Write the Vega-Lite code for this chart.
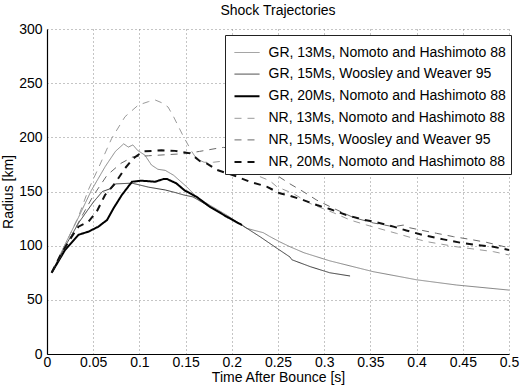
{
  "$schema": "https://vega.github.io/schema/vega-lite/v6.json",
  "width": 462,
  "height": 325,
  "autosize": {"type": "none"},
  "padding": {"left": 47, "top": 29, "right": 18, "bottom": 38},
  "background": "white",
  "title": {"text": "Shock Trajectories", "fontSize": 14, "fontWeight": "normal", "font": "Liberation Sans", "color": "black", "offset": 4, "anchor": "middle"},
  "config": {
    "view": {"stroke": null},
    "font": "Liberation Sans",
    "axis": {"labelFont": "Liberation Sans", "titleFont": "Liberation Sans", "labelFontSize": 14, "titleFontSize": 14, "labelColor": "black", "titleColor": "black", "titleFontWeight": "normal", "domainColor": "black", "domainWidth": 1.2, "ticks": false, "gridColor": "#8a8a8a", "gridDash": [1, 3], "gridWidth": 1, "gridOpacity": 1},
    "legend": {"orient": "none", "legendX": 178, "legendY": 6, "padding": 4.5, "symbolOffset": 4, "symbolSize": 625, "symbolType": "stroke", "labelOffset": 8, "labelFont": "Liberation Sans", "labelFontSize": 14, "labelColor": "black", "labelLimit": 400, "strokeColor": "#222222", "fillColor": "white", "rowPadding": 1.6, "cornerRadius": 0}
  },
  "data": {"values": [
    {"s": "GR, 13Ms, Nomoto and Hashimoto 88", "t": 0.005, "r": 75},
    {"s": "GR, 13Ms, Nomoto and Hashimoto 88", "t": 0.02, "r": 102},
    {"s": "GR, 13Ms, Nomoto and Hashimoto 88", "t": 0.034, "r": 126},
    {"s": "GR, 13Ms, Nomoto and Hashimoto 88", "t": 0.048, "r": 151},
    {"s": "GR, 13Ms, Nomoto and Hashimoto 88", "t": 0.063, "r": 173},
    {"s": "GR, 13Ms, Nomoto and Hashimoto 88", "t": 0.074, "r": 187},
    {"s": "GR, 13Ms, Nomoto and Hashimoto 88", "t": 0.083, "r": 194},
    {"s": "GR, 13Ms, Nomoto and Hashimoto 88", "t": 0.088, "r": 191},
    {"s": "GR, 13Ms, Nomoto and Hashimoto 88", "t": 0.093, "r": 193},
    {"s": "GR, 13Ms, Nomoto and Hashimoto 88", "t": 0.098, "r": 188},
    {"s": "GR, 13Ms, Nomoto and Hashimoto 88", "t": 0.106, "r": 183.5},
    {"s": "GR, 13Ms, Nomoto and Hashimoto 88", "t": 0.113, "r": 174.5},
    {"s": "GR, 13Ms, Nomoto and Hashimoto 88", "t": 0.12, "r": 170.5},
    {"s": "GR, 13Ms, Nomoto and Hashimoto 88", "t": 0.128, "r": 169.5},
    {"s": "GR, 13Ms, Nomoto and Hashimoto 88", "t": 0.137, "r": 165},
    {"s": "GR, 13Ms, Nomoto and Hashimoto 88", "t": 0.151, "r": 154.5},
    {"s": "GR, 13Ms, Nomoto and Hashimoto 88", "t": 0.162, "r": 145},
    {"s": "GR, 13Ms, Nomoto and Hashimoto 88", "t": 0.173, "r": 139},
    {"s": "GR, 13Ms, Nomoto and Hashimoto 88", "t": 0.195, "r": 128},
    {"s": "GR, 13Ms, Nomoto and Hashimoto 88", "t": 0.216, "r": 116},
    {"s": "GR, 13Ms, Nomoto and Hashimoto 88", "t": 0.234, "r": 112},
    {"s": "GR, 13Ms, Nomoto and Hashimoto 88", "t": 0.241, "r": 108.5},
    {"s": "GR, 13Ms, Nomoto and Hashimoto 88", "t": 0.252, "r": 103.5},
    {"s": "GR, 13Ms, Nomoto and Hashimoto 88", "t": 0.263, "r": 99},
    {"s": "GR, 13Ms, Nomoto and Hashimoto 88", "t": 0.278, "r": 93.5},
    {"s": "GR, 13Ms, Nomoto and Hashimoto 88", "t": 0.306, "r": 86},
    {"s": "GR, 13Ms, Nomoto and Hashimoto 88", "t": 0.353, "r": 76},
    {"s": "GR, 13Ms, Nomoto and Hashimoto 88", "t": 0.382, "r": 71.4},
    {"s": "GR, 13Ms, Nomoto and Hashimoto 88", "t": 0.4, "r": 68.5},
    {"s": "GR, 13Ms, Nomoto and Hashimoto 88", "t": 0.443, "r": 63.7},
    {"s": "GR, 13Ms, Nomoto and Hashimoto 88", "t": 0.5, "r": 59},

    {"s": "GR, 15Ms, Woosley and Weaver 95", "t": 0.005, "r": 75},
    {"s": "GR, 15Ms, Woosley and Weaver 95", "t": 0.02, "r": 100},
    {"s": "GR, 15Ms, Woosley and Weaver 95", "t": 0.035, "r": 122},
    {"s": "GR, 15Ms, Woosley and Weaver 95", "t": 0.05, "r": 140},
    {"s": "GR, 15Ms, Woosley and Weaver 95", "t": 0.06, "r": 150},
    {"s": "GR, 15Ms, Woosley and Weaver 95", "t": 0.07, "r": 153},
    {"s": "GR, 15Ms, Woosley and Weaver 95", "t": 0.074, "r": 157},
    {"s": "GR, 15Ms, Woosley and Weaver 95", "t": 0.092, "r": 157.7},
    {"s": "GR, 15Ms, Woosley and Weaver 95", "t": 0.11, "r": 154},
    {"s": "GR, 15Ms, Woosley and Weaver 95", "t": 0.128, "r": 151.4},
    {"s": "GR, 15Ms, Woosley and Weaver 95", "t": 0.139, "r": 149},
    {"s": "GR, 15Ms, Woosley and Weaver 95", "t": 0.148, "r": 146.8},
    {"s": "GR, 15Ms, Woosley and Weaver 95", "t": 0.158, "r": 145},
    {"s": "GR, 15Ms, Woosley and Weaver 95", "t": 0.176, "r": 136},
    {"s": "GR, 15Ms, Woosley and Weaver 95", "t": 0.195, "r": 127},
    {"s": "GR, 15Ms, Woosley and Weaver 95", "t": 0.211, "r": 119},
    {"s": "GR, 15Ms, Woosley and Weaver 95", "t": 0.22, "r": 114},
    {"s": "GR, 15Ms, Woosley and Weaver 95", "t": 0.231, "r": 108},
    {"s": "GR, 15Ms, Woosley and Weaver 95", "t": 0.249, "r": 97.5},
    {"s": "GR, 15Ms, Woosley and Weaver 95", "t": 0.263, "r": 89.5},
    {"s": "GR, 15Ms, Woosley and Weaver 95", "t": 0.265, "r": 87},
    {"s": "GR, 15Ms, Woosley and Weaver 95", "t": 0.285, "r": 80.6},
    {"s": "GR, 15Ms, Woosley and Weaver 95", "t": 0.306, "r": 75},
    {"s": "GR, 15Ms, Woosley and Weaver 95", "t": 0.328, "r": 72},

    {"s": "GR, 20Ms, Nomoto and Hashimoto 88", "t": 0.005, "r": 75},
    {"s": "GR, 20Ms, Nomoto and Hashimoto 88", "t": 0.0195, "r": 96},
    {"s": "GR, 20Ms, Nomoto and Hashimoto 88", "t": 0.034, "r": 110},
    {"s": "GR, 20Ms, Nomoto and Hashimoto 88", "t": 0.045, "r": 113},
    {"s": "GR, 20Ms, Nomoto and Hashimoto 88", "t": 0.0555, "r": 117.5},
    {"s": "GR, 20Ms, Nomoto and Hashimoto 88", "t": 0.065, "r": 123.7},
    {"s": "GR, 20Ms, Nomoto and Hashimoto 88", "t": 0.072, "r": 134.5},
    {"s": "GR, 20Ms, Nomoto and Hashimoto 88", "t": 0.081, "r": 146.8},
    {"s": "GR, 20Ms, Nomoto and Hashimoto 88", "t": 0.092, "r": 159},
    {"s": "GR, 20Ms, Nomoto and Hashimoto 88", "t": 0.102, "r": 160},
    {"s": "GR, 20Ms, Nomoto and Hashimoto 88", "t": 0.117, "r": 159},
    {"s": "GR, 20Ms, Nomoto and Hashimoto 88", "t": 0.126, "r": 161.5},
    {"s": "GR, 20Ms, Nomoto and Hashimoto 88", "t": 0.13, "r": 161.5},
    {"s": "GR, 20Ms, Nomoto and Hashimoto 88", "t": 0.14, "r": 157.5},
    {"s": "GR, 20Ms, Nomoto and Hashimoto 88", "t": 0.149, "r": 151},
    {"s": "GR, 20Ms, Nomoto and Hashimoto 88", "t": 0.162, "r": 145},
    {"s": "GR, 20Ms, Nomoto and Hashimoto 88", "t": 0.176, "r": 136},
    {"s": "GR, 20Ms, Nomoto and Hashimoto 88", "t": 0.1945, "r": 126.7},
    {"s": "GR, 20Ms, Nomoto and Hashimoto 88", "t": 0.211, "r": 119},

    {"s": "NR, 13Ms, Nomoto and Hashimoto 88", "t": 0.005, "r": 75},
    {"s": "NR, 13Ms, Nomoto and Hashimoto 88", "t": 0.0195, "r": 100.6},
    {"s": "NR, 13Ms, Nomoto and Hashimoto 88", "t": 0.034, "r": 126.7},
    {"s": "NR, 13Ms, Nomoto and Hashimoto 88", "t": 0.0447, "r": 151.4},
    {"s": "NR, 13Ms, Nomoto and Hashimoto 88", "t": 0.0555, "r": 171.4},
    {"s": "NR, 13Ms, Nomoto and Hashimoto 88", "t": 0.07, "r": 199},
    {"s": "NR, 13Ms, Nomoto and Hashimoto 88", "t": 0.0844, "r": 219},
    {"s": "NR, 13Ms, Nomoto and Hashimoto 88", "t": 0.0988, "r": 229.8},
    {"s": "NR, 13Ms, Nomoto and Hashimoto 88", "t": 0.11, "r": 233},
    {"s": "NR, 13Ms, Nomoto and Hashimoto 88", "t": 0.117, "r": 234.5},
    {"s": "NR, 13Ms, Nomoto and Hashimoto 88", "t": 0.124, "r": 232},
    {"s": "NR, 13Ms, Nomoto and Hashimoto 88", "t": 0.131, "r": 228},
    {"s": "NR, 13Ms, Nomoto and Hashimoto 88", "t": 0.137, "r": 219},
    {"s": "NR, 13Ms, Nomoto and Hashimoto 88", "t": 0.1475, "r": 201},
    {"s": "NR, 13Ms, Nomoto and Hashimoto 88", "t": 0.1566, "r": 187},
    {"s": "NR, 13Ms, Nomoto and Hashimoto 88", "t": 0.162, "r": 180},
    {"s": "NR, 13Ms, Nomoto and Hashimoto 88", "t": 0.17, "r": 177},
    {"s": "NR, 13Ms, Nomoto and Hashimoto 88", "t": 0.18, "r": 177},
    {"s": "NR, 13Ms, Nomoto and Hashimoto 88", "t": 0.19, "r": 178},
    {"s": "NR, 13Ms, Nomoto and Hashimoto 88", "t": 0.199, "r": 179},
    {"s": "NR, 13Ms, Nomoto and Hashimoto 88", "t": 0.207, "r": 176},
    {"s": "NR, 13Ms, Nomoto and Hashimoto 88", "t": 0.214, "r": 173.5},
    {"s": "NR, 13Ms, Nomoto and Hashimoto 88", "t": 0.223, "r": 169.8},
    {"s": "NR, 13Ms, Nomoto and Hashimoto 88", "t": 0.2305, "r": 163.7},
    {"s": "NR, 13Ms, Nomoto and Hashimoto 88", "t": 0.241, "r": 160},
    {"s": "NR, 13Ms, Nomoto and Hashimoto 88", "t": 0.2486, "r": 154.5},
    {"s": "NR, 13Ms, Nomoto and Hashimoto 88", "t": 0.2666, "r": 148},
    {"s": "NR, 13Ms, Nomoto and Hashimoto 88", "t": 0.2846, "r": 139},
    {"s": "NR, 13Ms, Nomoto and Hashimoto 88", "t": 0.31, "r": 130.4},
    {"s": "NR, 13Ms, Nomoto and Hashimoto 88", "t": 0.328, "r": 123.7},
    {"s": "NR, 13Ms, Nomoto and Hashimoto 88", "t": 0.346, "r": 119},
    {"s": "NR, 13Ms, Nomoto and Hashimoto 88", "t": 0.378, "r": 111.4},
    {"s": "NR, 13Ms, Nomoto and Hashimoto 88", "t": 0.393, "r": 107.7},
    {"s": "NR, 13Ms, Nomoto and Hashimoto 88", "t": 0.411, "r": 103.7},
    {"s": "NR, 13Ms, Nomoto and Hashimoto 88", "t": 0.443, "r": 99},
    {"s": "NR, 13Ms, Nomoto and Hashimoto 88", "t": 0.483, "r": 94.5},
    {"s": "NR, 13Ms, Nomoto and Hashimoto 88", "t": 0.5, "r": 91.4},

    {"s": "NR, 15Ms, Woosley and Weaver 95", "t": 0.005, "r": 75},
    {"s": "NR, 15Ms, Woosley and Weaver 95", "t": 0.02, "r": 98},
    {"s": "NR, 15Ms, Woosley and Weaver 95", "t": 0.035, "r": 123},
    {"s": "NR, 15Ms, Woosley and Weaver 95", "t": 0.05, "r": 146},
    {"s": "NR, 15Ms, Woosley and Weaver 95", "t": 0.065, "r": 165},
    {"s": "NR, 15Ms, Woosley and Weaver 95", "t": 0.08, "r": 176},
    {"s": "NR, 15Ms, Woosley and Weaver 95", "t": 0.093, "r": 182},
    {"s": "NR, 15Ms, Woosley and Weaver 95", "t": 0.11, "r": 183},
    {"s": "NR, 15Ms, Woosley and Weaver 95", "t": 0.13, "r": 184},
    {"s": "NR, 15Ms, Woosley and Weaver 95", "t": 0.15, "r": 185},
    {"s": "NR, 15Ms, Woosley and Weaver 95", "t": 0.165, "r": 187},
    {"s": "NR, 15Ms, Woosley and Weaver 95", "t": 0.1836, "r": 189.8},
    {"s": "NR, 15Ms, Woosley and Weaver 95", "t": 0.191, "r": 190.7},
    {"s": "NR, 15Ms, Woosley and Weaver 95", "t": 0.2016, "r": 189.8},
    {"s": "NR, 15Ms, Woosley and Weaver 95", "t": 0.2125, "r": 185.2},
    {"s": "NR, 15Ms, Woosley and Weaver 95", "t": 0.2197, "r": 182},
    {"s": "NR, 15Ms, Woosley and Weaver 95", "t": 0.234, "r": 175},
    {"s": "NR, 15Ms, Woosley and Weaver 95", "t": 0.2486, "r": 165},
    {"s": "NR, 15Ms, Woosley and Weaver 95", "t": 0.263, "r": 157},
    {"s": "NR, 15Ms, Woosley and Weaver 95", "t": 0.2775, "r": 149.8},
    {"s": "NR, 15Ms, Woosley and Weaver 95", "t": 0.292, "r": 142},
    {"s": "NR, 15Ms, Woosley and Weaver 95", "t": 0.31, "r": 134.5},
    {"s": "NR, 15Ms, Woosley and Weaver 95", "t": 0.3315, "r": 126},
    {"s": "NR, 15Ms, Woosley and Weaver 95", "t": 0.353, "r": 121},
    {"s": "NR, 15Ms, Woosley and Weaver 95", "t": 0.375, "r": 117.5},
    {"s": "NR, 15Ms, Woosley and Weaver 95", "t": 0.3856, "r": 119},
    {"s": "NR, 15Ms, Woosley and Weaver 95", "t": 0.39, "r": 117},
    {"s": "NR, 15Ms, Woosley and Weaver 95", "t": 0.4037, "r": 114.5},
    {"s": "NR, 15Ms, Woosley and Weaver 95", "t": 0.4217, "r": 111.4},
    {"s": "NR, 15Ms, Woosley and Weaver 95", "t": 0.44, "r": 108.3},
    {"s": "NR, 15Ms, Woosley and Weaver 95", "t": 0.458, "r": 105.8},
    {"s": "NR, 15Ms, Woosley and Weaver 95", "t": 0.476, "r": 103},
    {"s": "NR, 15Ms, Woosley and Weaver 95", "t": 0.5, "r": 98},

    {"s": "NR, 20Ms, Nomoto and Hashimoto 88", "t": 0.005, "r": 75},
    {"s": "NR, 20Ms, Nomoto and Hashimoto 88", "t": 0.015, "r": 92},
    {"s": "NR, 20Ms, Nomoto and Hashimoto 88", "t": 0.025, "r": 106},
    {"s": "NR, 20Ms, Nomoto and Hashimoto 88", "t": 0.034, "r": 117.5},
    {"s": "NR, 20Ms, Nomoto and Hashimoto 88", "t": 0.0447, "r": 122},
    {"s": "NR, 20Ms, Nomoto and Hashimoto 88", "t": 0.0538, "r": 131.4},
    {"s": "NR, 20Ms, Nomoto and Hashimoto 88", "t": 0.0628, "r": 146.8},
    {"s": "NR, 20Ms, Nomoto and Hashimoto 88", "t": 0.0736, "r": 157.5},
    {"s": "NR, 20Ms, Nomoto and Hashimoto 88", "t": 0.0844, "r": 171.4},
    {"s": "NR, 20Ms, Nomoto and Hashimoto 88", "t": 0.0934, "r": 180.6},
    {"s": "NR, 20Ms, Nomoto and Hashimoto 88", "t": 0.104, "r": 187},
    {"s": "NR, 20Ms, Nomoto and Hashimoto 88", "t": 0.124, "r": 188},
    {"s": "NR, 20Ms, Nomoto and Hashimoto 88", "t": 0.1385, "r": 187.5},
    {"s": "NR, 20Ms, Nomoto and Hashimoto 88", "t": 0.155, "r": 185.2},
    {"s": "NR, 20Ms, Nomoto and Hashimoto 88", "t": 0.1656, "r": 178},
    {"s": "NR, 20Ms, Nomoto and Hashimoto 88", "t": 0.1728, "r": 176},
    {"s": "NR, 20Ms, Nomoto and Hashimoto 88", "t": 0.1836, "r": 170},
    {"s": "NR, 20Ms, Nomoto and Hashimoto 88", "t": 0.2016, "r": 165},
    {"s": "NR, 20Ms, Nomoto and Hashimoto 88", "t": 0.2197, "r": 159},
    {"s": "NR, 20Ms, Nomoto and Hashimoto 88", "t": 0.2377, "r": 154.5},
    {"s": "NR, 20Ms, Nomoto and Hashimoto 88", "t": 0.252, "r": 148.3},
    {"s": "NR, 20Ms, Nomoto and Hashimoto 88", "t": 0.263, "r": 146},
    {"s": "NR, 20Ms, Nomoto and Hashimoto 88", "t": 0.2775, "r": 142},
    {"s": "NR, 20Ms, Nomoto and Hashimoto 88", "t": 0.292, "r": 137.5},
    {"s": "NR, 20Ms, Nomoto and Hashimoto 88", "t": 0.306, "r": 133.8},
    {"s": "NR, 20Ms, Nomoto and Hashimoto 88", "t": 0.324, "r": 128.3},
    {"s": "NR, 20Ms, Nomoto and Hashimoto 88", "t": 0.3406, "r": 124.3},
    {"s": "NR, 20Ms, Nomoto and Hashimoto 88", "t": 0.3586, "r": 121.2},
    {"s": "NR, 20Ms, Nomoto and Hashimoto 88", "t": 0.375, "r": 117.6},
    {"s": "NR, 20Ms, Nomoto and Hashimoto 88", "t": 0.389, "r": 114},
    {"s": "NR, 20Ms, Nomoto and Hashimoto 88", "t": 0.407, "r": 109.8},
    {"s": "NR, 20Ms, Nomoto and Hashimoto 88", "t": 0.429, "r": 105.8},
    {"s": "NR, 20Ms, Nomoto and Hashimoto 88", "t": 0.447, "r": 102.8},
    {"s": "NR, 20Ms, Nomoto and Hashimoto 88", "t": 0.465, "r": 100.6},
    {"s": "NR, 20Ms, Nomoto and Hashimoto 88", "t": 0.483, "r": 99},
    {"s": "NR, 20Ms, Nomoto and Hashimoto 88", "t": 0.5, "r": 96}
  ]},
  "mark": {"type": "line", "clip": true, "strokeCap": "butt"},
  "encoding": {
    "x": {"field": "t", "type": "quantitative", "scale": {"domain": [0, 0.5], "nice": false}, "axis": {"title": "Time After Bounce [s]", "values": [0, 0.05, 0.1, 0.15, 0.2, 0.25, 0.3, 0.35, 0.4, 0.45, 0.5], "format": "~g", "labelPadding": 1, "titlePadding": 1, "labelFlush": false}},
    "y": {"field": "r", "type": "quantitative", "scale": {"domain": [0, 300], "nice": false}, "axis": {"title": "Radius [km]", "values": [0, 50, 100, 150, 200, 250, 300], "labelPadding": 5, "titlePadding": 3}},
    "color": {"field": "s", "type": "nominal", "scale": {"domain": ["GR, 13Ms, Nomoto and Hashimoto 88", "GR, 15Ms, Woosley and Weaver 95", "GR, 20Ms, Nomoto and Hashimoto 88", "NR, 13Ms, Nomoto and Hashimoto 88", "NR, 15Ms, Woosley and Weaver 95", "NR, 20Ms, Nomoto and Hashimoto 88"], "range": ["#868686", "#383838", "#000000", "#9a9a9a", "#6a6a6a", "#111111"]}, "legend": {"title": null, "encode": {"symbols": {"update": {"strokeWidth": {"signal": "indexof(datum.value, '20Ms') >= 0 ? 2 : 1"}}}}}},
    "strokeDash": {"field": "s", "type": "nominal", "scale": {"domain": ["GR, 13Ms, Nomoto and Hashimoto 88", "GR, 15Ms, Woosley and Weaver 95", "GR, 20Ms, Nomoto and Hashimoto 88", "NR, 13Ms, Nomoto and Hashimoto 88", "NR, 15Ms, Woosley and Weaver 95", "NR, 20Ms, Nomoto and Hashimoto 88"], "range": [[1, 0], [1, 0], [1, 0], [7, 6], [7, 6], [7, 6]]}, "legend": {"title": null, "encode": {"symbols": {"update": {"strokeWidth": {"signal": "indexof(datum.value, '20Ms') >= 0 ? 2 : 1"}}}}}},
    "strokeWidth": {"field": "s", "type": "ordinal", "scale": {"type": "ordinal", "domain": ["GR, 13Ms, Nomoto and Hashimoto 88", "GR, 15Ms, Woosley and Weaver 95", "GR, 20Ms, Nomoto and Hashimoto 88", "NR, 13Ms, Nomoto and Hashimoto 88", "NR, 15Ms, Woosley and Weaver 95", "NR, 20Ms, Nomoto and Hashimoto 88"], "range": [1, 1, 2, 1, 1, 2]}, "legend": null}
  }
}
